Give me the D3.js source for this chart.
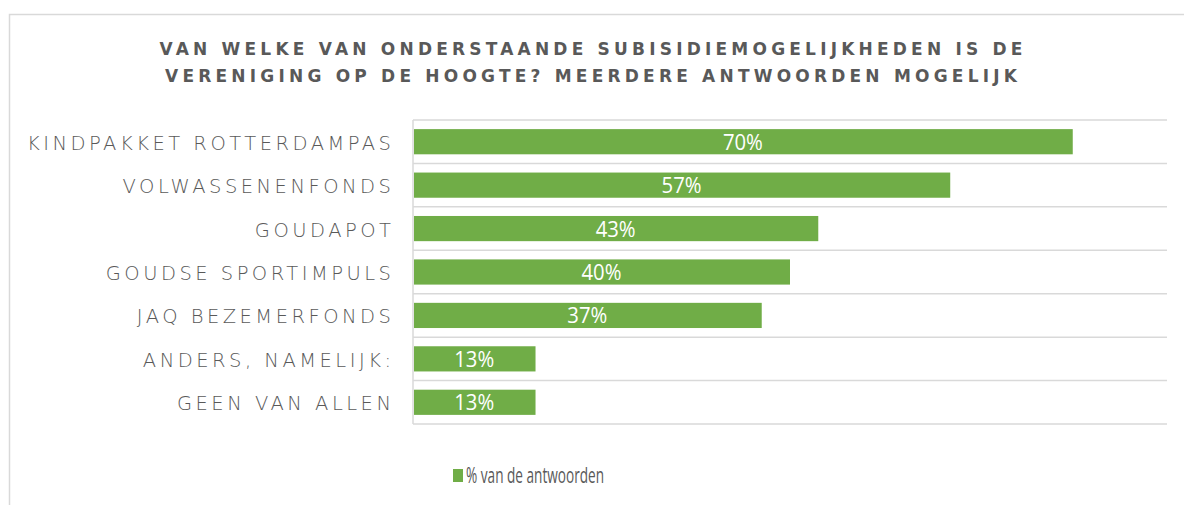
<!DOCTYPE html>
<html><head><meta charset="utf-8">
<script src="https://cdn.jsdelivr.net/npm/d3@7"></script>
<style>body{margin:0;background:#fff}svg{display:block}</style>
</head><body>
<svg id="c" width="1184" height="505"></svg>
<script>
const titleLines = ["VAN WELKE VAN ONDERSTAANDE SUBISIDIEMOGELIJKHEDEN IS DE", "VERENIGING OP DE HOOGTE? MEERDERE ANTWOORDEN MOGELIJK"];
const categories = ["KINDPAKKET ROTTERDAMPAS","VOLWASSENENFONDS","GOUDAPOT","GOUDSE SPORTIMPULS","JAQ BEZEMERFONDS","ANDERS, NAMELIJK:","GEEN VAN ALLEN"];
const values = [70,57,43,40,37,13,13];
const seriesName = "% van de antwoorden";
const xDomain = [0, 80];

const svg = d3.select("#c");
const grey = "#d9d9d9", green = "#70ad47", textCol = "#595959";
const bodyFont = "'Open Sans', Lato, sans-serif";

svg.append("rect").attr("x",9.5).attr("y",14.5).attr("width",1300).attr("height",600)
  .attr("fill","none").attr("stroke",grey).attr("stroke-width",1.5);

const m = {left:413, right:1167, top:120, bottom:424};
const x = d3.scaleLinear().domain(xDomain).range([m.left, m.right]);
const y = d3.scaleBand().domain(categories).range([m.top, m.bottom]).paddingInner(0.42).paddingOuter(0.21);

const bounds = d3.range(categories.length+1).map(i => m.top + i*(m.bottom-m.top)/categories.length);
svg.append("g").selectAll("line").data(bounds).join("line")
  .attr("x1",m.left).attr("x2",m.right).attr("y1",d=>d).attr("y2",d=>d)
  .attr("stroke",grey).attr("stroke-width",1.5);

svg.append("g").selectAll("rect").data(values).join("rect")
  .attr("x",x(0)+1).attr("y",(d,i)=>y(categories[i]))
  .attr("width",d=>x(d)-x(0)-1).attr("height",y.bandwidth())
  .attr("fill",green);

svg.append("line").attr("x1",m.left).attr("x2",m.left).attr("y1",m.top).attr("y2",m.bottom)
  .attr("stroke",grey).attr("stroke-width",1.5);

svg.append("g").selectAll("text").data(values).join("text")
  .attr("x",d=>(x(0)+x(d))/2).attr("y",(d,i)=>y(categories[i])+y.bandwidth()/2+8)
  .attr("text-anchor","middle").attr("fill","#fff")
  .attr("font-family",bodyFont).attr("font-size",21)
  .attr("textLength",40).attr("lengthAdjust","spacingAndGlyphs")
  .text(d=>d+"%");

const catTexts = svg.append("g").selectAll("text").data(categories).join("text")
  .attr("x",391).attr("y",d=>y(d)+y.bandwidth()/2+8)
  .attr("text-anchor","end").attr("fill",textCol)
  .attr("font-family","'DejaVu Sans', sans-serif").attr("font-weight",300).attr("font-size",19.5)
  .text(d=>d);
{
  const w0 = catTexts.nodes()[0].getComputedTextLength();
  const ls = (364 - w0) / (categories[0].length - 1);
  catTexts.attr("letter-spacing", ls + "px").attr("x", 391 + ls);
}

const tt = svg.append("g").selectAll("text").data(titleLines).join("text")
  .attr("x",591).attr("y",(d,i)=>55+i*27).attr("text-anchor","middle")
  .attr("fill",textCol).attr("font-family","'DejaVu Sans', sans-serif").attr("font-weight","bold")
  .attr("font-size",17).text(d=>d);
{
  const w = tt.nodes()[0].getComputedTextLength();
  const ls = (863 - w) / (titleLines[0].length - 1);
  tt.attr("letter-spacing", ls+"px").attr("x", 591 + ls/2);
}

const lg = svg.append("g");
lg.append("rect").attr("x",453).attr("y",469).attr("width",10).attr("height",13).attr("fill",green);
lg.append("text").attr("x",466).attr("y",483).attr("fill",textCol)
  .attr("font-family",bodyFont).attr("font-size",21)
  .attr("textLength",138).attr("lengthAdjust","spacingAndGlyphs").text(seriesName);
</script>
</body></html>
